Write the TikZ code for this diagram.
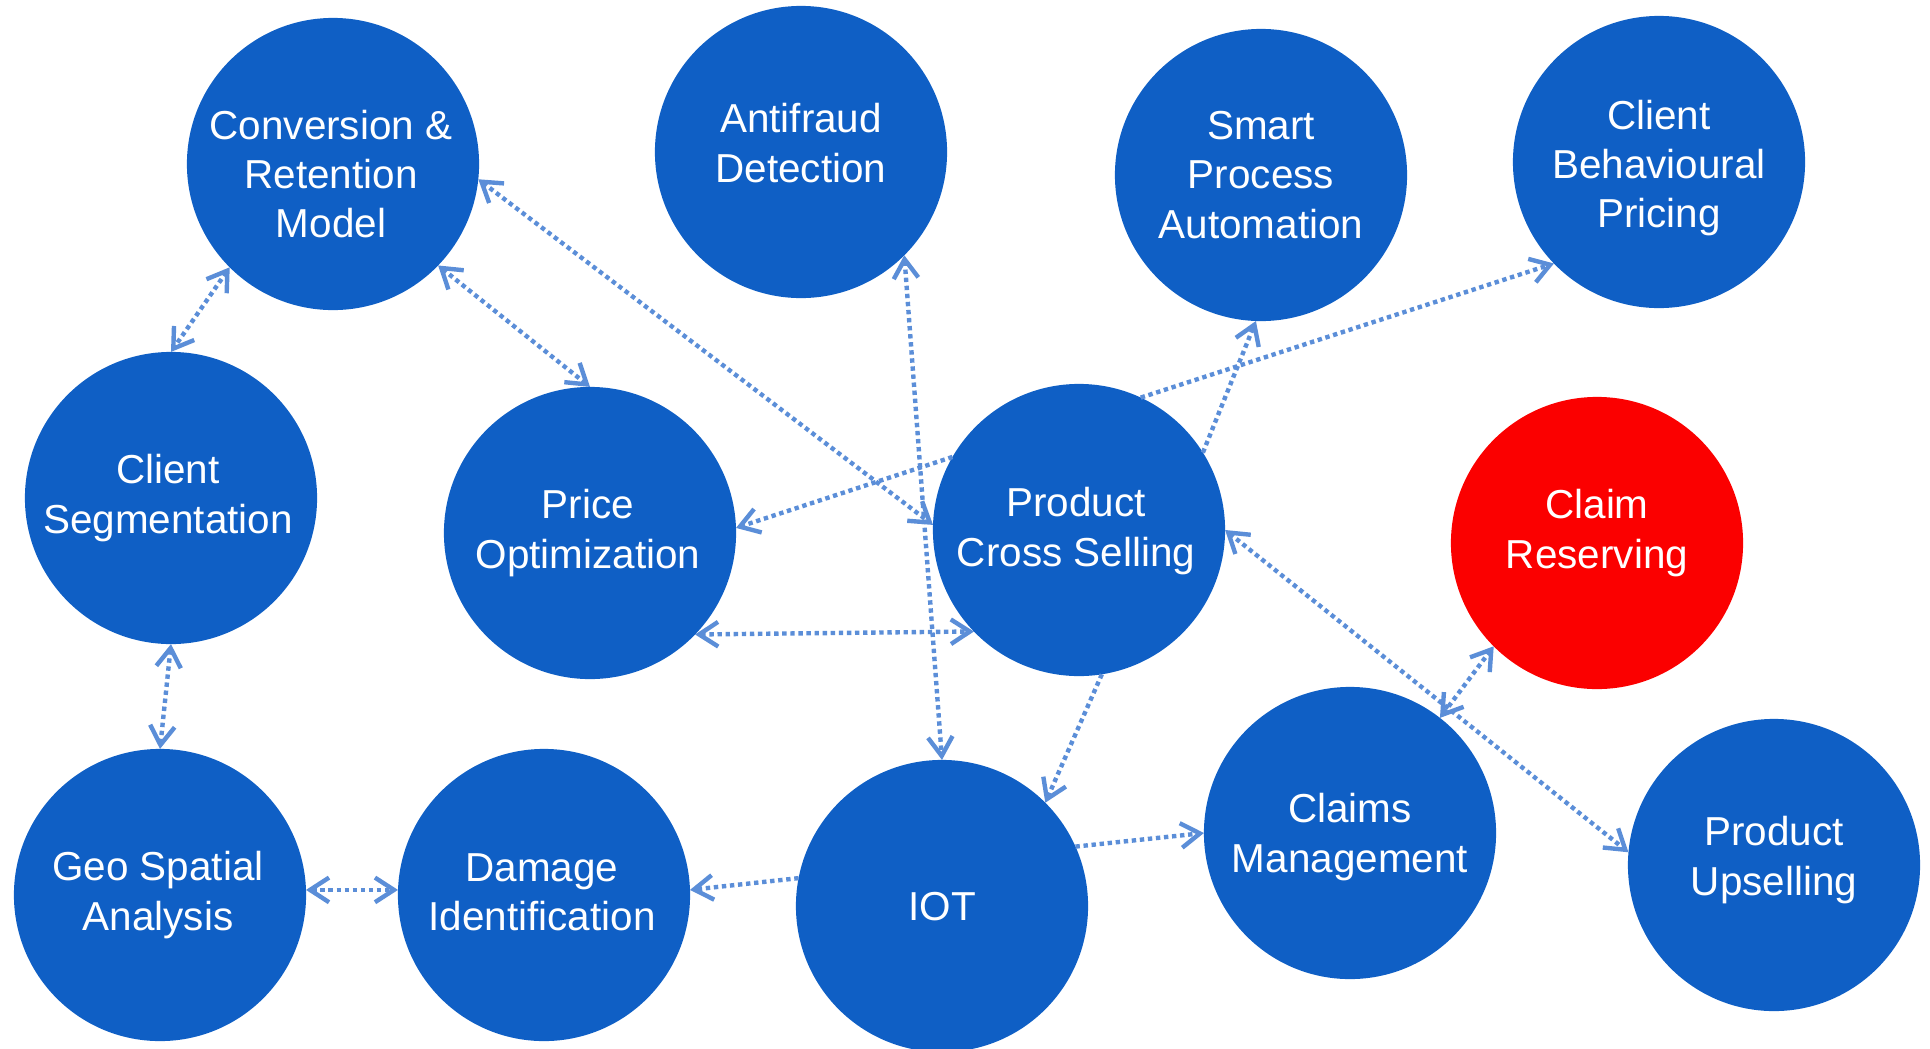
\documentclass[tikz,border=0pt]{standalone}
\usepackage{fontspec}
\setmainfont{Liberation Sans}
\usetikzlibrary{arrows.meta}
\definecolor{bub}{HTML}{0F5FC5}
\definecolor{hot}{HTML}{FB0000}
\definecolor{lnk}{HTML}{5B8ED8}
\begin{document}
\begin{tikzpicture}[x=0.01cm,y=-0.01cm,
  bubble/.style={circle,fill=bub,draw=none,minimum size=2.92cm,inner sep=0pt,outer sep=0pt},
  hotbubble/.style={bubble,fill=hot},
  lbl/.style={text=white,align=center,font=\fontsize{11.5}{14}\selectfont,inner sep=0pt},
  link/.style={draw=lnk,line width=1.25pt,dash pattern=on 1.25pt off 1.05pt},
  twoway/.style={link,{Straight Barb[length=5.4pt,width=7pt]}-{Straight Barb[length=5.4pt,width=7pt]}},
  oneway/.style={link,-{Straight Barb[length=5.4pt,width=7pt]}}]
\useasboundingbox (0,0) rectangle (1930,1048);

\node[bubble] (conv) at (333,164) {};
\node[bubble] (anti) at (801,152) {};
\node[bubble] (smart) at (1261,175) {};
\node[bubble] (cbp) at (1659,162) {};
\node[bubble] (cseg) at (171,498) {};
\node[bubble] (price) at (590,533) {};
\node[bubble] (pcs) at (1079,530) {};
\node[hotbubble] (claimres) at (1597,543) {};
\node[bubble] (claims) at (1350,833) {};
\node[bubble] (upsell) at (1774,865) {};
\node[bubble] (geo) at (160,895) {};
\node[bubble] (damage) at (544,895) {};
\node[bubble] (iot) at (942,906) {};

\node[lbl] (convT) at (331,174) {Conversion \&\\Retention\\Model};
\node[lbl] (antiT) at (801,143) {Antifraud\\Detection};
\node[lbl] (smartT) at (1261,175) {Smart\\Process\\Automation};
\node[lbl] (cbpT) at (1659,168) {Client\\Behavioural\\Pricing};
\node[lbl] (csegT) at (168,498) {Client\\Segmentation};
\node[lbl] (priceT) at (588,533) {Price\\Optimization};
\node[lbl] (pcsT) at (1076,531) {Product\\Cross Selling};
\node[lbl] (claimresT) at (1597,533) {Claim\\Reserving};
\node[lbl] (claimsT) at (1350,837) {Claims\\Management};
\node[lbl] (upsellT) at (1774,860) {Product\\Upselling};
\node[lbl] (geoT) at (158,895) {Geo Spatial\\Analysis};
\node[lbl] (damageT) at (542,892) {Damage\\Identification};
\node[lbl] (iotT) at (942,907) {IOT};

\draw[twoway] (conv.225) -- (cseg.90);
\draw[twoway] (conv.-44) -- (price.90);
\draw[twoway] (conv.-6) -- (pcs.178);
\draw[twoway] (anti.-45) -- (iot.90);
\draw[oneway] (pcs.150) -- (price.2);
\draw[twoway] (price.-44) -- (pcs.224);
\draw[oneway] (pcs.32) -- (smart.268);
\draw[oneway] (pcs.65) -- (cbp.224);
\draw[twoway] (pcs.0) -- (upsell.175);
\draw[oneway] (pcs.-81) -- (iot.45);
\draw[twoway] (claims.52) -- (claimres.225);
\draw[twoway] (cseg.270) -- (geo.90);
\draw[twoway] (geo.2) -- (damage.178);
\draw[oneway] (iot.169) -- (damage.2);
\draw[oneway] (iot.24) -- (claims.180);
\end{tikzpicture}
\end{document}
